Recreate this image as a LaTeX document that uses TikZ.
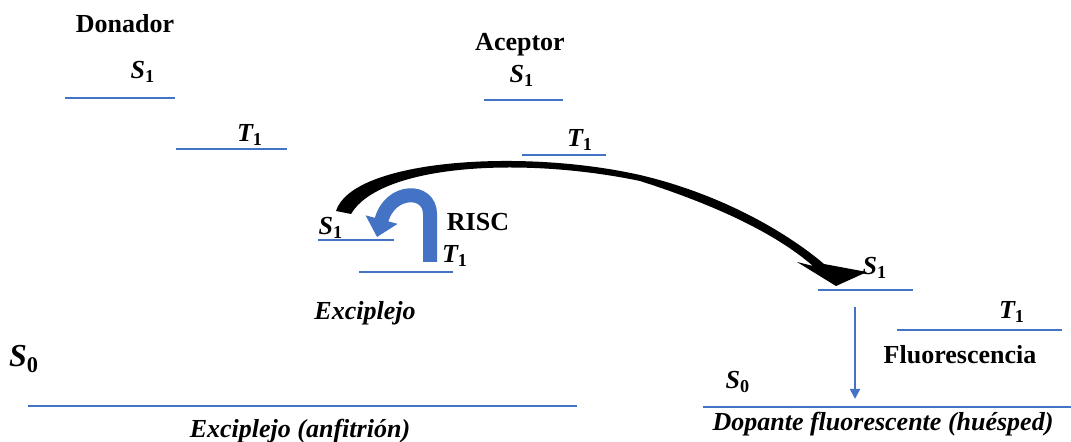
\documentclass[tikz,border=0pt]{standalone}
\usepackage{fontspec}
\setmainfont{Liberation Serif}
\usetikzlibrary{arrows.meta}
\definecolor{lvlblue}{HTML}{4472C4}
\newcommand{\lv}[2]{{\bfseries\itshape #1}\textsubscript{\bfseries #2}}

\begin{document}
\begin{tikzpicture}[x=0.5pt,y=-0.5pt,font=\fontsize{13}{15}\selectfont\bfseries,
  level/.style={draw=lvlblue,line width=1pt},
  lbl/.style={inner sep=1pt}]

\useasboundingbox (0,0) rectangle (1071,442);

% donador
\node (don) at (125,24)[lbl] {Donador};
\node (dS1) at (143,72)[lbl] {\lv S1};
\draw [level] (65,98) -- (175,98);
\node (dT1) at (250,135)[lbl] {\lv T1};
\draw [level] (176,149) -- (287,149);

% aceptor
\node (acc) at (520,45)[lbl] {Aceptor};
\node (aS1) at (522,76)[lbl] {\lv S1};
\draw [level] (484,100) -- (563,100);
\node (aT1) at (580,140)[lbl] {\lv T1};
\draw [level] (522,155) -- (606,155);

% exciplejo
\node (eS1) at (331,228)[lbl] {\lv S1};
\draw [level] (318,240) -- (394,240);
\node (eT1) at (455,256)[lbl] {\lv T1};
\draw [level] (359,272) -- (453,272);
\node (risc) at (478,222)[lbl] {RISC};
\node (exc) at (365,313)[lbl] {\itshape Exciplejo};
\draw [lvlblue,line width=7pt,-{Triangle[length=9pt,width=16pt]}] (430,262) -- (430,214) .. controls (430,188) and (390,188) .. (377,237);

% anfitrion
\node (hS0) at (24,359)[lbl,font=\fontsize{16}{18}\selectfont] {\lv S0};
\draw [level] (28,406) -- (577,406);
\node (host) at (300,431)[lbl] {\itshape Exciplejo (anfitrión)};

% dopante
\node (gS1) at (875,268)[lbl] {\lv S1};
\draw [level] (818,290) -- (913,290);
\node (gT1) at (1012,312)[lbl] {\lv T1};
\draw [level] (897,330) -- (1062,330);
\node (fluo) at (960,355)[lbl] {Fluorescencia};
\node (gS0) at (738,382)[lbl] {\lv S0};
\draw [level] (703,407) -- (1071,407);
\node (guest) at (883,424)[lbl] {\itshape Dopante fluorescente (huésped)};
\coordinate (fTop) at (855,307);
\coordinate (fBot) at (855,399);
\draw [level,-{Triangle[length=5pt,width=5pt]}] (fTop) -- (fBot);

% transferencia
\fill (336,211) .. controls (352,160) and (520,148) .. (640,175) .. controls (725,195) and (790,235) .. (824,264) -- (867,272) -- (836,286) -- (797,262) -- (813,266) .. controls (775,233) and (715,205) .. (640,181) .. controls (520,156) and (380,165) .. (351,214) -- cycle;
\end{tikzpicture}
\end{document}
